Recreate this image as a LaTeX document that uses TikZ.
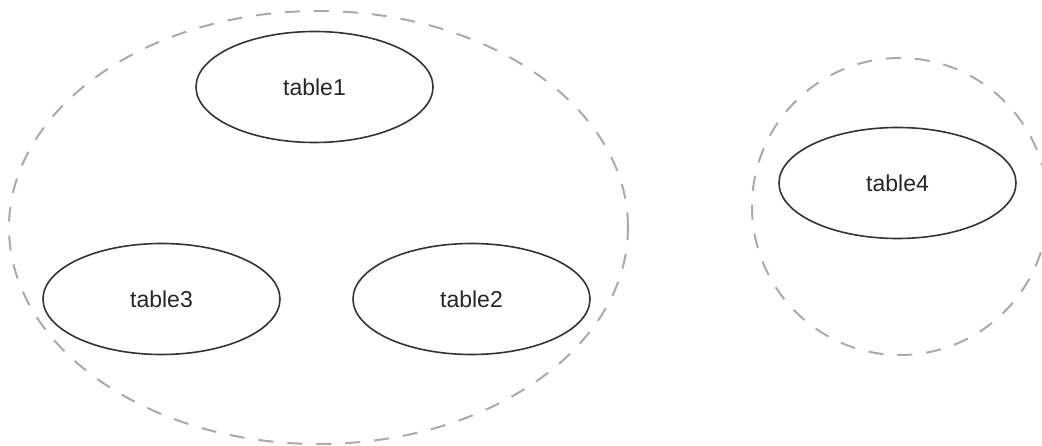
\documentclass[tikz,border=0pt]{standalone}
\usepackage{fontspec}
\setmainfont{Liberation Sans}
\usetikzlibrary{shapes.geometric}
\definecolor{edgegray}{HTML}{333333}
\definecolor{clustergray}{HTML}{A8AAAD}
\begin{document}
\begin{tikzpicture}[x=1pt,y=-1pt,
  tbl/.style={ellipse,draw=edgegray,line width=1.6pt,minimum width=237pt,minimum height=111pt,inner sep=0pt,font=\fontsize{23}{27}\selectfont,text=black!85},
  cluster/.style={ellipse,draw=clustergray,line width=2pt,dash pattern=on 15pt off 14pt,inner sep=0pt}]
\useasboundingbox (0,0) rectangle (1042,446);
\node[cluster,minimum width=619pt,minimum height=433pt] (c1) at (318.5,227.5) {};
\node[cluster,minimum width=296pt,minimum height=297pt] (c2) at (900,206.5) {};
\node[tbl] (t1) at (314.5,87) {table1};
\node[tbl] (t3) at (161.5,299) {table3};
\node[tbl] (t2) at (471.5,299) {table2};
\node[tbl] (t4) at (897.5,183) {table4};
\end{tikzpicture}
\end{document}
